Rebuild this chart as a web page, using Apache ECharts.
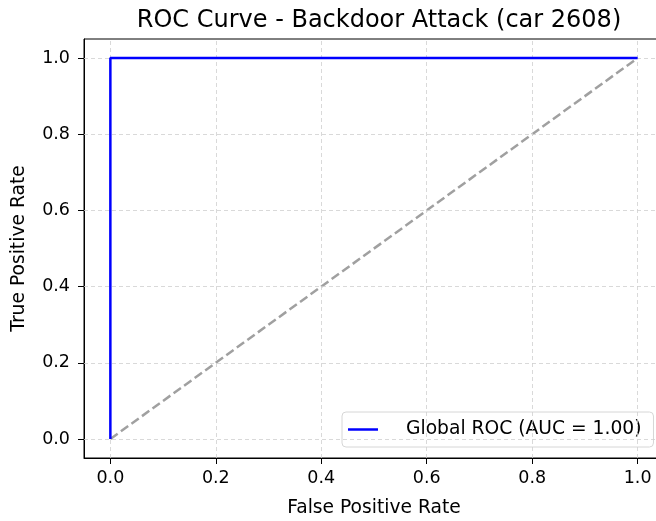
<!DOCTYPE html>
<html>
<head>
<meta charset="utf-8">
<script src="https://cdn.jsdelivr.net/npm/echarts@6/dist/echarts.min.js"></script>
<style>
  html, body { margin: 0; padding: 0; background: #fff; overflow: hidden; }
  /* wider than the window: the right edge of the axes box falls off the picture */
  #chart { width: 690px; height: 521px; }
</style>
</head>
<body>
<div id="chart"></div>
<script>
  // ROC points
  const fpr = [0, 0, 1];
  const tpr = [0, 1, 1];
  const chanceX = [0, 1];
  const chanceY = [0, 1];
  const tickValues = [0, 0.2, 0.4, 0.6, 0.8, 1.0];

  const myChart = echarts.init(document.getElementById('chart'));
  const font = 'DejaVu Sans';

  // dashed grid lines at the tick positions (axis range starts at -0.05)
  let gridLines = [];
  tickValues.forEach(function (v) {
    gridLines.push({ xAxis: v });
    gridLines.push({ yAxis: v });
  });

  const option = {
    animation: false,
    title: {
      text: 'ROC Curve - Backdoor Attack (car 2608)',
      left: 374,
      textAlign: 'center',
      top: 4,
      textStyle: { fontFamily: font, fontSize: 24, fontWeight: 'normal', color: '#000' }
    },
    grid: {
      left: 84, top: 39, width: 580, height: 419,
      outerBoundsMode: 'none',
      show: true, borderColor: '#000', borderWidth: 1
    },
    xAxis: {
      type: 'value', min: -0.05, max: 1.05,
      name: 'False Positive Rate', nameLocation: 'middle', nameGap: 41,
      nameTextStyle: { fontFamily: font, fontSize: 18.7, color: '#000' },
      axisLine: { onZero: false, lineStyle: { color: '#000' } },
      axisTick: { show: true, length: 6, customValues: tickValues, lineStyle: { color: '#000' } },
      axisLabel: {
        customValues: tickValues, margin: 11,
        fontFamily: font, fontSize: 17.5, color: '#000',
        formatter: function (v) { return v.toFixed(1); }
      },
      splitLine: { show: false }
    },
    yAxis: {
      type: 'value', min: -0.05, max: 1.05,
      name: 'True Positive Rate', nameLocation: 'middle', nameGap: 55, nameRotate: 90,
      nameTextStyle: { fontFamily: font, fontSize: 18.7, color: '#000' },
      axisLine: { show: true, onZero: false, lineStyle: { color: '#000' } },
      axisTick: { show: true, length: 6, customValues: tickValues, lineStyle: { color: '#000' } },
      axisLabel: {
        customValues: tickValues, margin: 14,
        fontFamily: font, fontSize: 17.5, color: '#000',
        formatter: function (v) { return v.toFixed(1); }
      },
      splitLine: { show: false }
    },
    legend: {
      data: ['Global ROC (AUC = 1.00)'],
      left: 342, top: 412,
      orient: 'vertical',
      itemWidth: 30, itemHeight: 2.5,
      padding: [8, 12, 8, 6],
      borderColor: '#d6d6d6', borderWidth: 1, borderRadius: 4,
      backgroundColor: 'rgba(255,255,255,0.8)',
      icon: 'rect',
      textStyle: { fontFamily: font, fontSize: 18.7, color: '#000', padding: [0, 0, 0, 23] }
    },
    series: [
      {
        name: 'grid',
        type: 'line',
        data: [],
        silent: true,
        z: 1,
        markLine: {
          silent: true, symbol: 'none', animation: false,
          label: { show: false },
          lineStyle: { color: '#cfcfcf', type: [4, 3], width: 0.8 },
          data: gridLines
        }
      },
      {
        name: 'chance',
        type: 'line',
        z: 2,
        data: chanceX.map(function (x, i) { return [x, chanceY[i]]; }),
        symbol: 'none',
        lineStyle: { color: '#a0a0a0', width: 2.5, type: [9, 4] }
      },
      {
        name: 'Global ROC (AUC = 1.00)',
        type: 'line',
        zlevel: 1,
        z: 3,
        data: fpr.map(function (x, i) { return [x, tpr[i]]; }),
        symbol: 'none',
        itemStyle: { color: '#0000ff' },
        lineStyle: { color: '#0000ff', width: 2.5 }
      }
    ]
  };
  myChart.setOption(option);
</script>
</body>
</html>
